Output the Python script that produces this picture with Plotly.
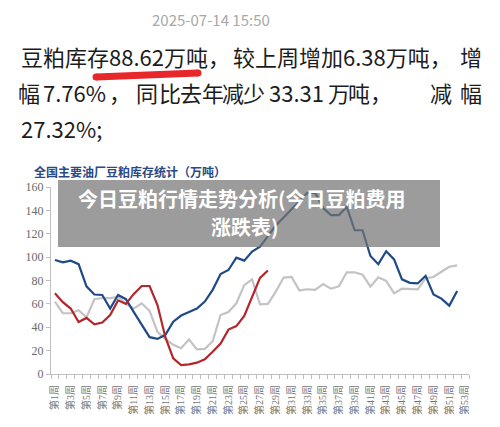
import plotly.graph_objects as go

weeks_all = list(range(1, 54))
week_labels = [f"第{n}周" for n in range(1, 54, 2)]

weeks_2023 = list(range(1, 53))
stock_2023 = [62, 52, 52, 54.5, 48.5, 64, 65, 65, 66, 60, 56, 60.5, 54, 36, 30, 25, 22, 29.5,
              21, 21.5, 28, 50.5, 53, 60.5, 76, 81, 59.5, 60, 70.5, 82.5, 83, 71.5, 72.5, 72,
              77, 73, 75, 87, 87, 85, 74.7, 82.7, 79.6, 69, 73, 72.5, 72.5, 82, 83, 87.5, 91.8, 93]

weeks_2024 = list(range(1, 53))
stock_2024 = [97.5, 95.5, 97, 94, 75, 68, 67.6, 56, 67.6, 64, 53, 42, 31.5, 30, 33.5, 44.8, 50,
              53, 56, 62, 72, 85.6, 89, 99.5, 97, 104.7, 109, 118, 127, 134, 141, 148, 155, 155,
              142, 136, 136, 143, 123, 123, 101, 94, 105, 98, 81, 78, 77.5, 84, 68, 64.5, 58.5, 71]

weeks_2025 = list(range(1, 29))
stock_2025 = [69, 61.5, 56, 44.5, 48, 42.5, 44, 50.5, 63, 60, 68.5, 75.3, 75.3, 59, 31.5, 13.4,
              7.7, 8.3, 9.7, 12.5, 19, 26, 38, 41, 49.6, 66, 82.24, 88.62]

W, H = 500, 427
L, R, T, B = 51, 31, 187, 53
PW, PH = W - L - R, H - T - B


def fx(px):
    return (px - L) / PW


def fy(py):
    return (H - B - py) / PH


fig = go.Figure()
fig.add_trace(go.Scatter(x=weeks_2023, y=stock_2023, mode="lines", name="2023",
                         line=dict(color="#c3c3c3", width=2.2)))
fig.add_trace(go.Scatter(x=weeks_2024, y=stock_2024, mode="lines", name="2024",
                         line=dict(color="#1f4a86", width=2.2)))
fig.add_trace(go.Scatter(x=weeks_2025, y=stock_2025, mode="lines", name="2025",
                         line=dict(color="#b3262d", width=2.2)))

axis_gray = "#bfbfbf"
fig.update_xaxes(range=[0.5, 53.5], showline=True, linecolor=axis_gray, linewidth=1,
                 showgrid=False, zeroline=False,
                 tickvals=list(range(1, 54, 2)), ticktext=week_labels, tickangle=-90,
                 ticks="outside", ticklen=6, tickcolor="rgba(0,0,0,0)",
                 tickfont=dict(family="Liberation Serif, Noto Sans CJK SC", size=10, color="#767676"),
                 minor=dict(tickvals=[k + 0.5 for k in range(0, 54)], ticks="outside",
                            ticklen=4, tickcolor=axis_gray, showgrid=False))
fig.update_yaxes(range=[0, 160], dtick=20, showline=True, linecolor=axis_gray, linewidth=1,
                 showgrid=False, zeroline=False, ticks="outside", ticklen=4, tickcolor=axis_gray,
                 tickfont=dict(family="Liberation Serif", size=12, color="#6a6a6a"))

ann = []
txt_font = dict(family="Noto Sans CJK SC", size=22, color="#1c1c1c")


def add_text(x, y, s, anchor="left", font=None):
    ann.append(dict(x=fx(x), y=fy(y), xref="paper", yref="paper", text=s, showarrow=False,
                    xanchor=anchor, yanchor="middle", font=font or txt_font))


add_text(211, 19, "2025-07-14 15:50", "center",
         dict(family="Noto Sans CJK SC", size=15, color="#a8a8a8"))

# line 1
add_text(19, 56, "豆粕库存88.62万吨，")
add_text(231, 56, "较上周增加6.38万吨，")
add_text(471, 56, "增", "center")
# line 2 (justified)
for cx, s in [(29, "幅"), (74.5, "7.76%"), (146.5, "同"), (170, "比"), (191, "去"),
              (212.5, "年"), (232.5, "减"), (254, "少"), (296, "33.31"), (339, "万"),
              (359, "吨"), (441, "减"), (471, "幅")]:
    add_text(cx, 92, s, "center")
add_text(107, 92, "，")
add_text(368, 92, "，")
# line 3
add_text(19, 128, "27.32%;")

# chart title
add_text(32, 172, "<b>全国主要油厂豆粕库存统计（万吨）</b>", "left",
         dict(family="Noto Sans CJK SC", size=12, color="#2a4a86"))

# banner text
bfont = dict(family="Noto Sans CJK SC", size=20, color="#ffffff")
add_text(242, 198, "<b>今日豆粕行情走势分析(今日豆粕费用</b>", "center", bfont)
add_text(245, 226, "<b>涨跌表)</b>", "center", bfont)

shapes = []
# red underline
red = "#e8272b"
x1, y1, x2, y2, th = 96, 77, 198, 73, 7
shapes.append(dict(type="line", xref="paper", yref="paper", x0=fx(x1), y0=fy(y1),
                   x1=fx(x2), y1=fy(y2), line=dict(color=red, width=th)))
for cx, cy in [(x1, y1), (x2, y2)]:
    r = th / 2
    shapes.append(dict(type="circle", xref="paper", yref="paper", x0=fx(cx - r), x1=fx(cx + r),
                       y0=fy(cy + r), y1=fy(cy - r), fillcolor=red, line=dict(width=0)))
# banner
shapes.append(dict(type="rect", xref="paper", yref="paper", x0=fx(58), x1=fx(440),
                   y0=fy(247), y1=fy(180), fillcolor="rgba(118,118,118,0.72)",
                   line=dict(width=0), layer="above"))

fig.update_layout(width=W, height=H, autosize=False, margin=dict(l=L, r=R, t=T, b=B),
                  paper_bgcolor="white", plot_bgcolor="white", showlegend=False,
                  annotations=ann, shapes=shapes)
fig.write_html("out.html")
